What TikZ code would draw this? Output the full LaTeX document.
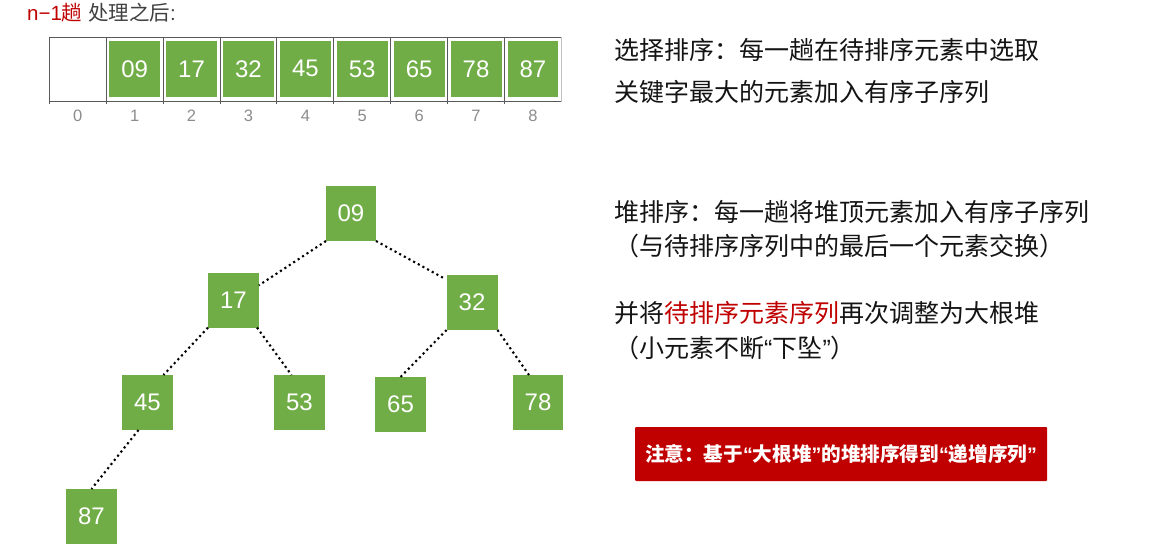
\documentclass[tikz,border=0pt]{standalone}
\usepackage{fontspec}
\setmainfont{Liberation Sans}
\newfontfamily\cjk{Noto Sans CJK SC}
\newfontfamily\latinf{Liberation Sans}
\definecolor{grn}{HTML}{70AD47}
\definecolor{dred}{HTML}{C00000}
\definecolor{framegray}{HTML}{595959}
\definecolor{edgegray}{HTML}{BFBFBF}
\definecolor{idxgray}{HTML}{8C8C8C}
\definecolor{txt}{HTML}{141414}
\definecolor{ttlgray}{HTML}{404040}
\newcommand\qL{{\latinf “}}
\newcommand\qR{{\latinf ”}}
\begin{document}
\begin{tikzpicture}[x=1pt,y=-1pt,
  gbox/.style={fill=grn,text=white,minimum width=51pt,minimum height=55pt,
    inner sep=0pt,outer sep=0pt,font=\fontsize{24}{28}\selectfont},
  idx/.style={text=idxgray,inner sep=0pt,font=\fontsize{16.5}{19}\selectfont},
  cjktext/.style={anchor=west,inner sep=0pt,text=txt,font=\cjk\fontsize{25}{30}\selectfont},
  frameline/.style={draw=framegray,line width=0.9pt},
  dotline/.style={draw=black,line width=2.1pt,dash pattern=on 2.1pt off 3.2pt},
  notebox/.style={fill=dred,text=white,minimum width=412pt,minimum height=54pt,
    inner sep=0pt,rounded corners=1pt,font=\cjk\bfseries\fontsize{19.6}{23}\selectfont}
]
\fill[white] (0,0) rectangle (1152,549);
\useasboundingbox (0,0) rectangle (1152,549);

% title
\node[anchor=west,inner sep=0pt,font=\fontsize{20.5}{24}\selectfont] (title) at (27,12.3)
  {\textcolor{dred}{n−1{\cjk 趟}}\ \textcolor{ttlgray}{{\cjk 处理之后}:}};

% array frame
\draw[frameline] (49.3,37.3) -- (561.3,37.3);
\draw[frameline] (49.3,101) -- (561.3,101);
\foreach \i in {0,...,8}
  \draw[frameline] ({49.3+56.9*\i},37.3) -- ({49.3+56.9*\i},103.5);
\draw[draw=edgegray,line width=0.9pt] (561.3,37.3) -- (561.3,102);

% array cells
\foreach \v [count=\k] in {09,17,32,45,53,65,78,87}
  \node[gbox,minimum width=50.9pt,minimum height=55.5pt] (a\k) at ({49.3+56.9*(\k+0.5)},68.8) {\v};
\foreach \k in {0,...,8}
  \node[idx] (i\k) at ({49.3+56.9*(\k+0.5)},115.5) {\k};

% tree
\node[gbox,minimum width=50pt] (n09) at (351,213.5) {09};
\node[gbox] (n17) at (233.5,300) {17};
\node[gbox] (n32) at (472,302.5) {32};
\node[gbox] (n45) at (147.5,402.5) {45};
\node[gbox] (n53) at (299.5,402.5) {53};
\node[gbox] (n65) at (400.5,404.5) {65};
\node[gbox,minimum width=50pt] (n78) at (538,402.5) {78};
\node[gbox] (n87) at (91.5,516.5) {87};

\draw[dotline] (n09.south west) -- (n17.30);
\draw[dotline] (n09.south east) -- ([xshift=-3pt,yshift=-3pt]n32.north west);
\draw[dotline] (n17.south west) -- ([xshift=16pt]n45.north);
\draw[dotline] ([xshift=-2pt]n17.south east) -- ([xshift=-8pt]n53.north);
\draw[dotline] (n32.south west) -- (n65.north);
\draw[dotline] (n32.south east) -- ([xshift=-9pt]n78.north);
\draw[dotline] ([xshift=-9pt]n45.south) -- (n87.north);

% right texts
\node[cjktext] (t1) at (614,50) {选择排序：每一趟在待排序元素中选取};
\node[cjktext] (t2) at (614,92) {关键字最大的元素加入有序子序列};
\node[cjktext] (t3) at (614,212) {堆排序：每一趟将堆顶元素加入有序子序列};
\node[cjktext] (t4) at (614,246) {（与待排序序列中的最后一个元素交换）};
\node[cjktext] (t5) at (614,313) {并将\textcolor{dred}{待排序元素序列}再次调整为大根堆};
\node[cjktext] (t6) at (614,348) {（小元素不断\qL 下坠\qR ）};

\node[notebox] (note) at (841,454)
  {注意：基于{\latinf\bfseries “}大根堆{\latinf\bfseries ”}的堆排序得到{\latinf\bfseries “}递增序列{\latinf\bfseries ”}};
\end{tikzpicture}
\end{document}
